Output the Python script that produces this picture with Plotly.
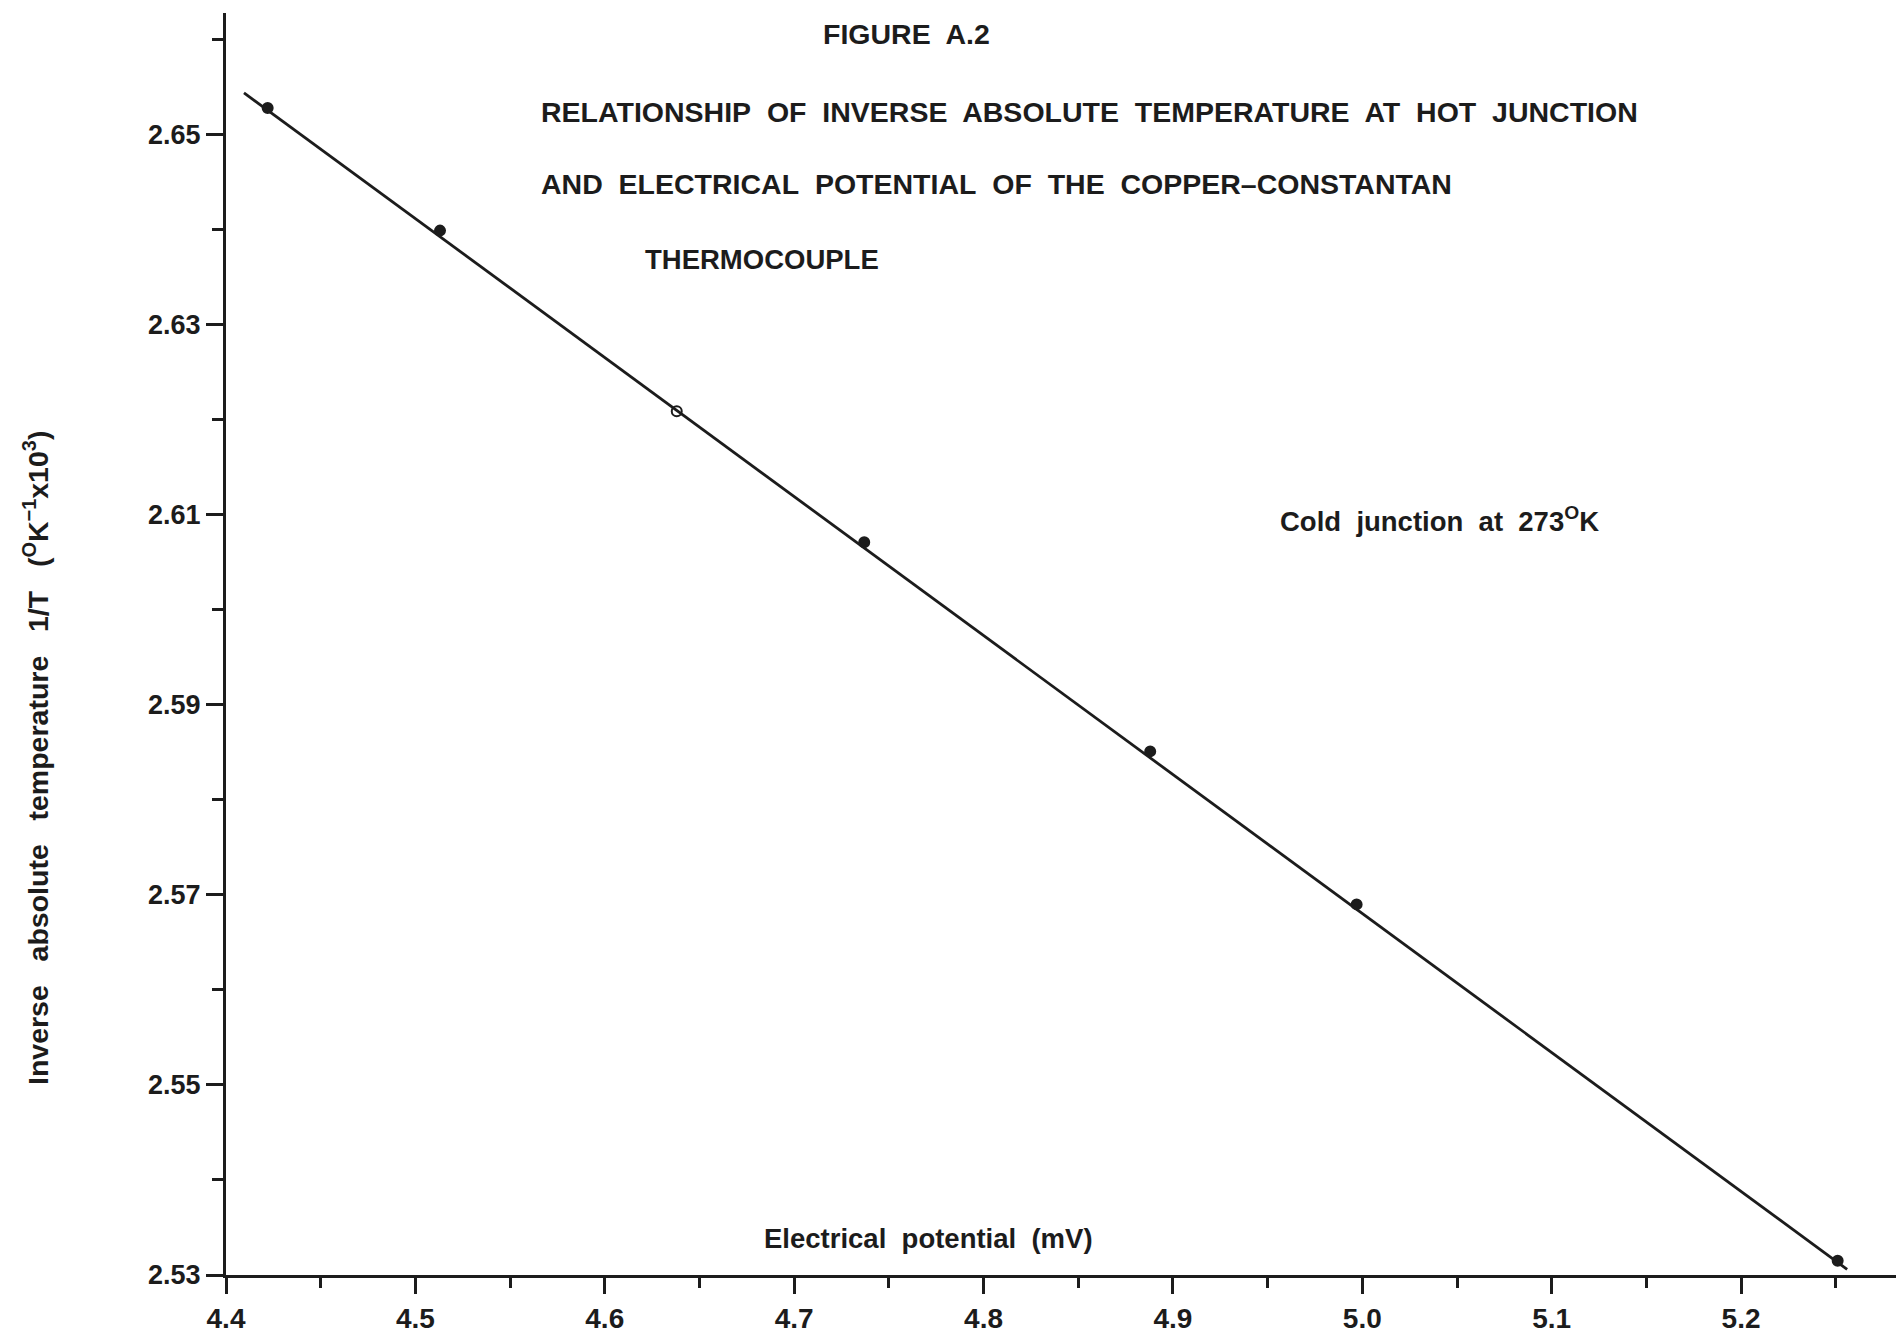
import plotly.graph_objects as go

# Measured data points (Electrical potential mV, 1/T x10^3)
potential_mv = [4.422, 4.513, 4.638, 4.737, 4.888, 4.997, 5.251]
inv_temp = [2.6528, 2.6399, 2.6209, 2.6071, 2.5851, 2.5690, 2.5315]
# Fitted straight line endpoints
fit_x = [4.4095, 5.256]
fit_y = [2.6544, 2.5306]

y_tickvals = [2.53, 2.55, 2.57, 2.59, 2.61, 2.63, 2.65]
y_ticktext = ["2.53", "2.55", "2.57", "2.59", "2.61", "2.63", "2.65"]
x_tickvals = [4.4, 4.5, 4.6, 4.7, 4.8, 4.9, 5.0, 5.1, 5.2]
x_ticktext = ["4.4", "4.5", "4.6", "4.7", "4.8", "4.9", "5.0", "5.1", "5.2"]

INK = "#1c1c1c"
FONT = "Liberation Sans, Arial, Helvetica, sans-serif"
S = "\u00a0 "  # double spacing between words
S3 = "\u00a0\u00a0 "

fig = go.Figure()
fig.add_trace(go.Scatter(x=fit_x, y=fit_y, mode="lines",
                         line=dict(color=INK, width=2.8), hoverinfo="skip",
                         showlegend=False))
symbols = ["circle"] * len(potential_mv)
symbols[2] = "circle-open"
fig.add_trace(go.Scatter(x=potential_mv, y=inv_temp, mode="markers",
                         marker=dict(color=INK, size=10, symbol=symbols,
                                     line=dict(color=INK, width=2)),
                         showlegend=False))

title_font = dict(family=FONT, size=28.5, color=INK, weight="bold")
note_font = dict(family=FONT, size=27.5, color=INK, weight="bold")
annotations = [
    dict(text="FIGURE" + S + "A.2", x=4.7142, y=2.6606, font=title_font),
    dict(text=S.join(["RELATIONSHIP", "OF", "INVERSE", "ABSOLUTE", "TEMPERATURE",
                      "AT", "HOT", "JUNCTION"]), x=4.5653, y=2.6524, font=title_font),
    dict(text=S.join(["AND", "ELECTRICAL", "POTENTIAL", "OF", "THE",
                      "COPPER\u2013CONSTANTAN"]), x=4.5653, y=2.6448, font=title_font),
    dict(text="THERMOCOUPLE", x=4.6202, y=2.6369, font=note_font),
    dict(text=S.join(["Cold", "junction", "at", "273<sup>O</sup>K"]), x=4.9555, y=2.6095,
         font=note_font),
    dict(text=S.join(["Electrical", "potential", "(mV)"]), x=4.683, y=2.5338,
         font=note_font),
]
for a in annotations:
    fig.add_annotation(text=a["text"], x=a["x"], y=a["y"], xref="x", yref="y",
                       xanchor="left", yanchor="middle", showarrow=False,
                       font=a["font"])

fig.add_annotation(
    text=S3.join(["Inverse", "absolute", "temperature", "1/T",
                  "(<sup>O</sup>K<sup>\u22121</sup>x10<sup>3</sup>)"]),
    xref="paper", yref="y", x=-0.1138, y=2.5844, xanchor="center", yanchor="middle",
    textangle=-90, showarrow=False,
    font=dict(family=FONT, size=28.5, color=INK, weight="bold"))

fig.update_layout(
    width=1896, height=1333,
    margin=dict(l=226, r=0, t=13, b=58),
    paper_bgcolor="white", plot_bgcolor="white",
    font=dict(family=FONT, color=INK),
)
fig.update_xaxes(
    range=[4.4, 5.2818], showgrid=False, zeroline=False,
    showline=True, linecolor=INK, linewidth=3,
    tickmode="array", tickvals=x_tickvals, ticktext=x_ticktext,
    ticks="outside", ticklen=16, tickwidth=3, tickcolor=INK,
    tickfont=dict(family=FONT, size=28, color=INK, weight="bold"),
    minor=dict(dtick=0.05, tick0=4.4, ticks="outside", ticklen=10, tickwidth=3,
               tickcolor=INK, showgrid=False),
)
fig.update_yaxes(
    range=[2.53, 2.6628], showgrid=False, zeroline=False,
    showline=True, linecolor=INK, linewidth=3,
    tickmode="array", tickvals=y_tickvals, ticktext=y_ticktext,
    ticks="outside", ticklen=17, tickwidth=3, tickcolor=INK,
    tickfont=dict(family=FONT, size=27, color=INK, weight="bold"),
    minor=dict(dtick=0.01, tick0=2.53, ticks="outside", ticklen=11, tickwidth=3,
               tickcolor=INK, showgrid=False),
)

fig.write_html("out.html")
